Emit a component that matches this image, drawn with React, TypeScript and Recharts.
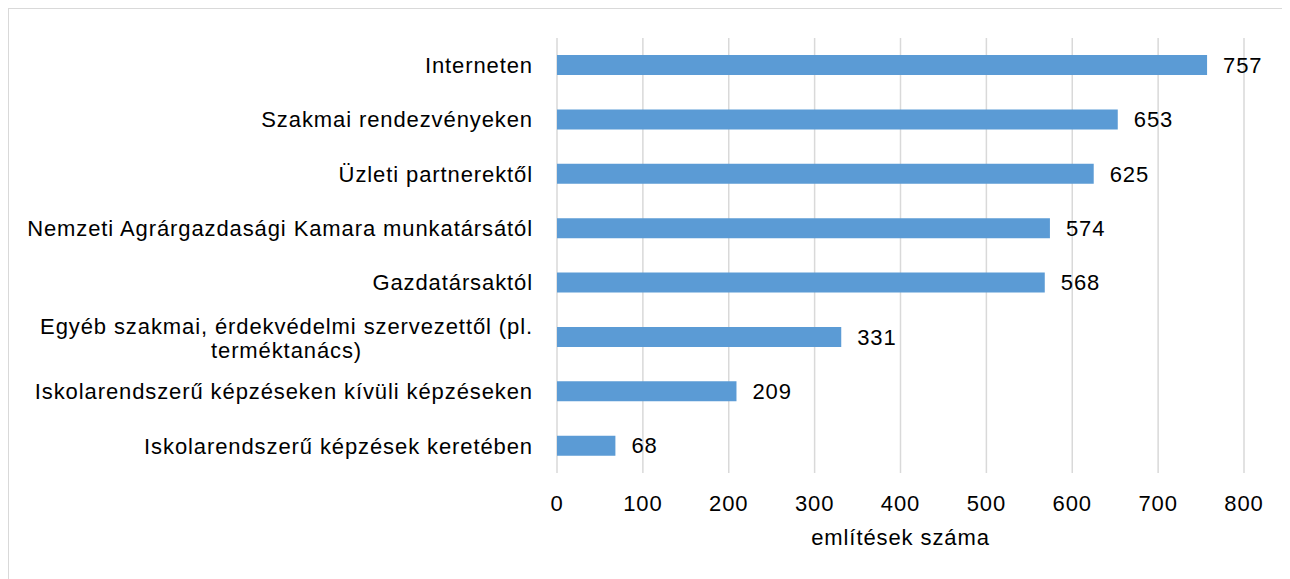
import React from 'react';
import { BarChart, Bar, XAxis, YAxis, CartesianGrid, LabelList } from 'recharts';

const CATEGORIES = [
  'Interneten',
  'Szakmai rendezvényeken',
  'Üzleti partnerektől',
  'Nemzeti Agrárgazdasági Kamara munkatársától',
  'Gazdatársaktól',
  'Egyéb szakmai, érdekvédelmi szervezettől (pl. terméktanács)',
  'Iskolarendszerű képzéseken kívüli képzéseken',
  'Iskolarendszerű képzések keretében',
];
const MENTIONS = [757, 653, 625, 574, 568, 331, 209, 68];
const X_TICKS = [0, 100, 200, 300, 400, 500, 600, 700, 800];
const X_TITLE = 'említések száma';

const data = CATEGORIES.map((name, i) => ({ name, value: MENTIONS[i] }));

const FONT = '"Liberation Sans", Arial, sans-serif';
const FONT_SIZE = 22;
const SPACING = 0.9;
const BAR_COLOR = '#5b9bd5';
const GRID_COLOR = '#d9d9d9';
const WRAP_WIDTH = 525;

let ctx: any = null;
function measure(text: string) {
  if (!ctx) {
    ctx = document.createElement('canvas').getContext('2d');
  }
  if (!ctx) return text.length * FONT_SIZE * 0.55;
  ctx.font = `${FONT_SIZE}px ${FONT}`;
  ctx.letterSpacing = `${SPACING}px`;
  return ctx.measureText(text).width;
}

function wrap(text: string) {
  if (measure(text) <= WRAP_WIDTH) return [text];
  const words = text.split(' ');
  const lines: string[] = [];
  let cur = '';
  words.forEach((w) => {
    const next = cur ? cur + ' ' + w : w;
    if (cur && measure(next) > WRAP_WIDTH) {
      lines.push(cur);
      cur = w;
    } else {
      cur = next;
    }
  });
  if (cur) lines.push(cur);
  return lines;
}

const textStyle = { letterSpacing: SPACING };

const CategoryTick = (props: any) => {
  const { x, y, payload } = props;
  const lines = wrap(payload.value);
  if (lines.length === 1) {
    return (
      <text x={x} y={y} dy="0.35em" textAnchor="end" fill="#000" fontSize={FONT_SIZE} fontFamily={FONT} style={textStyle}>
        {lines[0]}
      </text>
    );
  }
  const maxW = Math.max(...lines.map(measure));
  const cx = x - maxW / 2;
  const lh = 24;
  const startY = y - ((lines.length - 1) * lh) / 2 + 1;
  return (
    <text textAnchor="middle" fill="#000" fontSize={FONT_SIZE} fontFamily={FONT} style={textStyle}>
      {lines.map((l, i) => (
        <tspan key={i} x={cx} y={startY + i * lh} dy="0.35em">
          {l}
        </tspan>
      ))}
    </text>
  );
};

export default function App() {
  return (
    <div
      style={{
        width: 1281,
        height: 570,
        borderTop: `1px solid ${GRID_COLOR}`,
        borderLeft: `1px solid ${GRID_COLOR}`,
        background: '#fff',
      }}
    >
      <BarChart
        width={1281}
        height={570}
        data={data}
        layout="vertical"
        margin={{ top: 29, right: 46, bottom: 34, left: 0 }}
        barSize={20}
      >
        <CartesianGrid horizontal={false} stroke={GRID_COLOR} strokeWidth={1.5} />
        <XAxis
          type="number"
          domain={[0, 800]}
          ticks={X_TICKS}
          axisLine={false}
          tickLine={false}
          tickSize={0}
          tickMargin={22}
          height={72}
          tick={{ fill: '#000', fontSize: FONT_SIZE, fontFamily: FONT, style: textStyle }}
          label={{ value: X_TITLE, position: 'insideBottom', offset: 0, fill: '#000', fontSize: FONT_SIZE, fontFamily: FONT, style: textStyle }}
        />
        <YAxis
          type="category"
          dataKey="name"
          width={548}
          axisLine={false}
          tickLine={false}
          tickSize={0}
          tickMargin={24}
          interval={0}
          tick={<CategoryTick />}
        />
        <Bar dataKey="value" fill={BAR_COLOR} isAnimationActive={false}>
          <LabelList
            dataKey="value"
            position="right"
            offset={16}
            fill="#000"
            fontSize={FONT_SIZE}
            fontFamily={FONT}
            style={textStyle}
          />
        </Bar>
      </BarChart>
    </div>
  );
}
